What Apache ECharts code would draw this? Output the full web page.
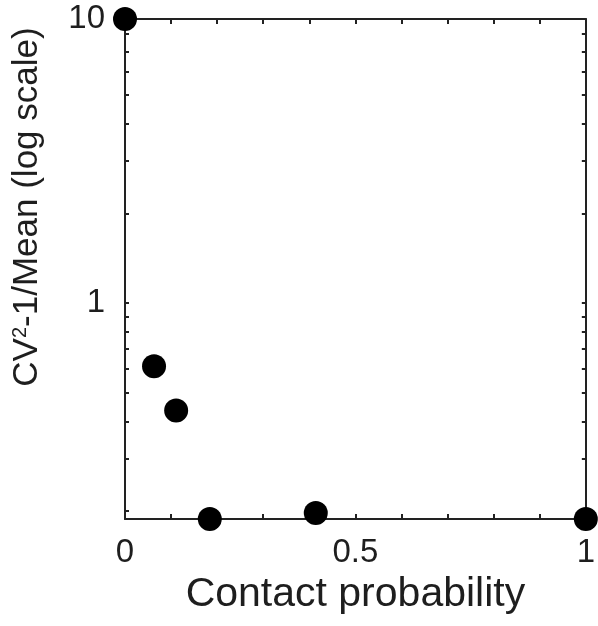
<!DOCTYPE html>
<html>
<head>
<meta charset="utf-8">
<script src="https://cdn.jsdelivr.net/npm/echarts@6/dist/echarts.min.js"></script>
<style>
html, body { margin: 0; padding: 0; background: #fff; }
#main { width: 598px; height: 626px; }
</style>
</head>
<body>
<div id="main"></div>
<script>
// 数据
var contactProb = [0, 0.063, 0.111, 0.184, 0.414, 1];
var cvMean = [9, 0.613, 0.435, 0.188, 0.197, 0.188];

var xTicks = [0, 0.1, 0.2, 0.3, 0.4, 0.5, 0.6, 0.7, 0.8, 0.9, 1];
var xLabelValues = [0, 0.5, 1];
var yTicks = [0.2, 0.3, 0.4, 0.5, 0.6, 0.7, 0.8, 0.9, 1, 2, 3, 4, 5, 6, 7, 8, 9];
var yLabelValues = [1, 9];
var yLabelTexts = ['1', '10'];
var yMin = 0.188, yMax = 9;

(function(){
    var myChart = echarts.init(document.getElementById("main"))
    var font = 'Liberation Sans, Arial, Helvetica, sans-serif';
    var lineCol = '#222';
    var txtCol = '#1e1e1e';

    function xAx(pos, showLabel){
        return {
            type: 'value',
            position: pos,
            min: 0,
            max: 1,
            splitLine: { show: false },
            axisLine: { show: true, onZero: false, lineStyle: { color: lineCol, width: 2 } },
            axisTick: { show: true, inside: true, length: 5, customValues: xTicks,
                lineStyle: { color: lineCol, width: 2 } },
            axisLabel: { show: showLabel, customValues: xLabelValues, margin: 17,
                fontFamily: font, fontSize: 33, color: txtCol }
        };
    }
    function yAx(pos, showLabel){
        return {
            type: 'log',
            logBase: 10,
            position: pos,
            min: yMin,
            max: yMax,
            splitLine: { show: false },
            axisLine: { show: true, onZero: false, lineStyle: { color: lineCol, width: 2 } },
            axisTick: { show: true, inside: true, length: 4, customValues: yTicks,
                lineStyle: { color: lineCol, width: 2 } },
            axisLabel: { show: showLabel, customValues: yLabelValues, margin: 20,
                fontFamily: font, fontSize: 33, color: txtCol,
                formatter: function (v) {
                    var i = 0;
                    for (var k = 0; k < yLabelValues.length; k++) {
                        if (Math.abs(v - yLabelValues[k]) < 1e-6 * yLabelValues[k]) i = k;
                    }
                    return yLabelTexts[i];
                }
            }
        };
    }

    var xBottom = xAx('bottom', true);
    xBottom.name = 'Contact probability';
    xBottom.nameLocation = 'middle';
    xBottom.nameGap = 47;
    xBottom.nameTextStyle = { fontFamily: font, fontSize: 41, color: txtCol };

    var yLeft = yAx('left', true);
    yLeft.name = 'CV{sup|2}-1/Mean (log scale)';
    yLeft.nameLocation = 'middle';
    yLeft.nameGap = 80;
    yLeft.nameTextStyle = {
        fontFamily: font, fontSize: 35, color: txtCol,
        padding: [0, 0, 0, 124],
        rich: {
            sup: { fontFamily: font, fontSize: 20, color: txtCol, verticalAlign: 'top' }
        }
    };

    option = {
        animation: false,
        backgroundColor: '#fff',
        grid: { left: 125, right: 7, top: 19, bottom: 107, containLabel: false },
        xAxis: [xBottom, xAx('top', false)],
        yAxis: [yLeft, yAx('right', false)],
        series: [
            {
                type: 'scatter',
                xAxisIndex: 0,
                yAxisIndex: 0,
                symbol: 'circle',
                symbolSize: 24,
                clip: false,
                itemStyle: { color: '#000', opacity: 1 },
                data: contactProb.map(function (x, i) {
                    return [x, cvMean[i]];
                }),
                z: 10
            }
        ]
    };
    myChart.setOption(option)
})()
</script>
</body>
</html>
